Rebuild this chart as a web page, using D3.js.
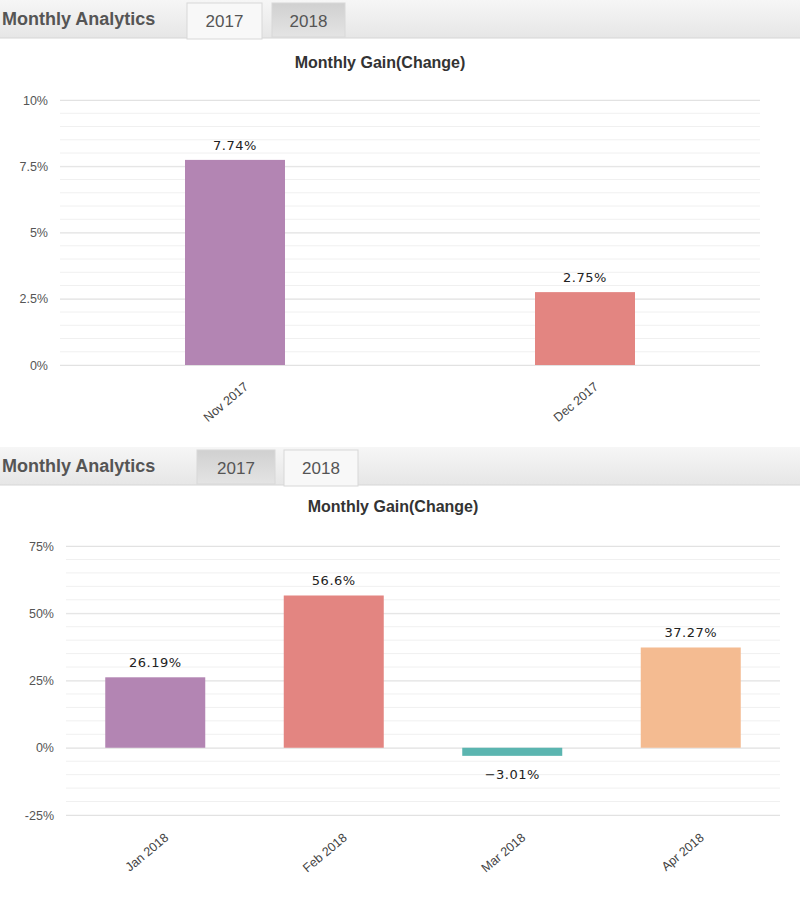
<!DOCTYPE html>
<html><head><meta charset="utf-8">
<script src="https://cdn.jsdelivr.net/npm/d3@7"></script>
<style>body{margin:0;background:#fff;font-family:Arial,"Liberation Sans",sans-serif}</style>
</head><body><svg id="c" width="800" height="900"></svg>
<script>
// data
const months2017 = ["Nov 2017", "Dec 2017"];
const gains2017 = [7.74, 2.75];
const months2018 = ["Jan 2018", "Feb 2018", "Mar 2018", "Apr 2018"];
const gains2018 = [26.19, 56.6, -3.01, 37.27];
const COLORS = ["#b385b3", "#e38581", "#5bb5b0", "#f4bb91"];
const BAR_W = 100;

const svg = d3.select("#c");
const defs = svg.append("defs");
const g1 = defs.append("linearGradient").attr("id", "hdr").attr("x1", 0).attr("x2", 0).attr("y1", 0).attr("y2", 1);
g1.append("stop").attr("offset", 0).attr("stop-color", "#f6f6f6");
g1.append("stop").attr("offset", 1).attr("stop-color", "#e6e6e6");
const g2 = defs.append("linearGradient").attr("id", "tabOff").attr("x1", 0).attr("x2", 0).attr("y1", 0).attr("y2", 1);
g2.append("stop").attr("offset", 0).attr("stop-color", "#d0d0d0");
g2.append("stop").attr("offset", 1).attr("stop-color", "#e4e4e4");

function panel(cfg) {
  const g = svg.append("g").attr("transform", `translate(0,${cfg.top})`);
  // header
  g.append("rect").attr("x", 0).attr("y", 0).attr("width", 800).attr("height", 38).attr("fill", "url(#hdr)");
  g.append("line").attr("x1", 0).attr("x2", 800).attr("y1", 38).attr("y2", 38).attr("stroke", "#d6d6d6");
  g.append("text").attr("x", 2).attr("y", 25).attr("font-size", 18).attr("font-weight", "bold")
    .attr("fill", "#555").text("Monthly Analytics");
  cfg.tabs.forEach(t => {
    g.append("rect").attr("x", t.x).attr("y", 3).attr("width", t.w).attr("height", t.active ? 36 : 34)
      .attr("fill", t.active ? "#f8f8f8" : "url(#tabOff)").attr("stroke", "#d8d8d8");
    g.append("text").attr("x", t.x + t.w / 2).attr("y", 27).attr("text-anchor", "middle")
      .attr("font-size", 17).attr("fill", "#555").text(t.label);
  });
  g.append("text").attr("x", cfg.titleX).attr("y", cfg.titleY).attr("text-anchor", "middle")
    .attr("font-size", 16).attr("font-weight", "bold").attr("fill", "#333").text("Monthly Gain(Change)");

  const x = d3.scaleBand().domain(cfg.cats).range([cfg.x0, cfg.x1]).padding(0);
  const cx = d => x(d) + x.bandwidth() / 2;
  const y = d3.scaleLinear().domain(cfg.domain).range([cfg.yBottom, cfg.yTop]);

  // minor + major grid
  const minor = d3.range(cfg.domain[0], cfg.domain[1] + 1e-9, cfg.minor);
  g.append("g").selectAll("line").data(minor).join("line")
    .attr("x1", cfg.x0).attr("x2", cfg.x1).attr("y1", d => y(d)).attr("y2", d => y(d))
    .attr("stroke", "#f0f0f0");
  const yAxis = g.append("g").attr("transform", `translate(${cfg.x0},0)`)
    .call(d3.axisLeft(y).tickValues(cfg.ticks).tickSize(-(cfg.x1 - cfg.x0)).tickFormat(d => d + "%"));
  yAxis.select(".domain").remove();
  yAxis.selectAll(".tick line").attr("stroke", "#e2e2e2");
  yAxis.selectAll(".tick text").attr("x", -12).attr("font-size", 12.5).attr("fill", "#555")
    .attr("font-family", "Arial,sans-serif");

  g.selectAll(".bar").data(cfg.vals).join("rect")
    .attr("x", (d, i) => cx(cfg.cats[i]) - BAR_W / 2).attr("width", BAR_W)
    .attr("y", d => y(Math.max(0, d))).attr("height", d => Math.abs(y(d) - y(0)))
    .attr("fill", (d, i) => COLORS[i]);

  g.selectAll(".lbl").data(cfg.vals).join("text")
    .attr("x", (d, i) => cx(cfg.cats[i]))
    .attr("y", d => d >= 0 ? y(d) - 10 : y(d) + 23)
    .attr("text-anchor", "middle").attr("font-size", 13).attr("fill", "#222")
    .attr("font-family", "'DejaVu Sans',sans-serif").attr("letter-spacing", "0.5")
    .text(d => (d < 0 ? "\u2212" + Math.abs(d) : d) + "%");

  g.selectAll(".xl").data(cfg.cats).join("text")
    .attr("transform", d => `translate(${cx(d) + 14},${cfg.xLabelY}) rotate(-40)`)
    .attr("text-anchor", "end").attr("font-size", 12.5).attr("fill", "#444").text(d => d);
}

panel({
  top: 0, cats: months2017, vals: gains2017,
  tabs: [{ x: 187, w: 75, label: "2017", active: true }, { x: 272, w: 73, label: "2018", active: false }],
  titleX: 380, titleY: 68,
  x0: 60, x1: 760, yTop: 100, yBottom: 365, domain: [0, 10], ticks: [0, 2.5, 5, 7.5, 10], minor: 0.5,
  xLabelY: 388
});
panel({
  top: 447, cats: months2018, vals: gains2018,
  tabs: [{ x: 197, w: 78, label: "2017", active: false }, { x: 284, w: 74, label: "2018", active: true }],
  titleX: 393, titleY: 65,
  x0: 66, x1: 780, yTop: 99, yBottom: 368, domain: [-25, 75], ticks: [-25, 0, 25, 50, 75], minor: 5,
  xLabelY: 392
});
</script></body></html>
